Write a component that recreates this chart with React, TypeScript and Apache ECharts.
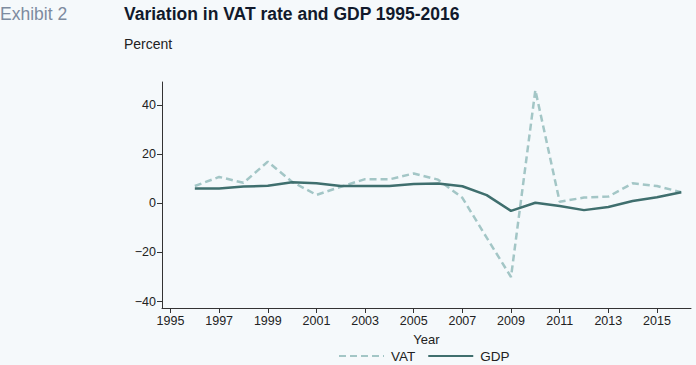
import React, { useEffect, useRef } from "react";
import * as echarts from "echarts";

const years = [1996, 1997, 1998, 1999, 2000, 2001, 2002, 2003, 2004, 2005, 2006, 2007, 2008, 2009, 2010, 2011, 2012, 2013, 2014, 2015, 2016];
const vat = [7, 10.7, 8.3, 16.9, 8.7, 3.4, 6.7, 9.8, 9.7, 12.1, 9.6, 2.2, -14, -30, 46, 0.6, 2.3, 2.7, 8.1, 7, 4.5];
const gdp = [6, 6, 6.8, 7.1, 8.5, 8.1, 7, 7, 7, 7.8, 8, 6.9, 3.3, -3.1, 0.2, -1.1, -2.8, -1.5, 0.9, 2.4, 4.5];
const xTicks = [1995, 1997, 1999, 2001, 2003, 2005, 2007, 2009, 2011, 2013, 2015];
const yTicks = [-40, -20, 0, 20, 40];

const FONT = "'Liberation Sans', Arial, Helvetica, sans-serif";
const VAT_COLOR = "#a3c6c6";
const GDP_COLOR = "#3f6f6e";

export default function App() {
  const ref = useRef<HTMLDivElement>(null);
  useEffect(() => {
    if (!ref.current) return;
    const chart = echarts.init(ref.current, undefined, { renderer: "svg" });
    const axisColor = "#333";
    chart.setOption({
      animation: false,
      backgroundColor: "#f5f9fb",
      textStyle: { fontFamily: FONT },
      title: [
        { text: "Exhibit 2", left: 0, top: 5, padding: 0, textStyle: { fontFamily: FONT, fontSize: 17.5, fontWeight: "normal", color: "#7d8ba0" } },
        { text: "Variation in VAT rate and GDP 1995-2016", left: 124, top: 5, padding: 0, textStyle: { fontFamily: FONT, fontSize: 17.5, fontWeight: "bold", color: "#111a2c" } },
        { text: "Percent", left: 124, top: 37, padding: 0, textStyle: { fontFamily: FONT, fontSize: 14, fontWeight: "normal", color: "#222" } },
      ],
      grid: { left: 162, right: 5, top: 82, bottom: 57, containLabel: false },
      legend: {
        left: 333,
        top: 344,
        itemWidth: 45,
        itemHeight: 10,
        itemGap: 12,
        itemStyle: { opacity: 0 },
        textStyle: { fontFamily: FONT, fontSize: 13.5, color: "#222", padding: [0, 0, 0, 2] },
        data: ["VAT", "GDP"],
      },
      xAxis: {
        type: "value",
        min: 1994.65,
        max: 2016.4,
        name: "Year",
        nameLocation: "middle",
        nameGap: 25,
        nameTextStyle: { fontFamily: FONT, fontSize: 13, color: "#222" },
        axisLine: { show: true, onZero: false, lineStyle: { color: axisColor, width: 1 } },
        axisTick: { show: true, length: 5, customValues: xTicks, lineStyle: { color: axisColor } },
        axisLabel: { customValues: xTicks, fontFamily: FONT, fontSize: 12.5, color: "#222", margin: 6, formatter: (v: number) => String(v) },
        splitLine: { show: false },
      },
      yAxis: {
        type: "value",
        min: -42.6,
        max: 49.3,
        axisLine: { show: true, lineStyle: { color: axisColor, width: 1 } },
        axisTick: { show: true, length: 5, customValues: yTicks, lineStyle: { color: axisColor } },
        axisLabel: {
          customValues: yTicks,
          fontFamily: FONT,
          fontSize: 12.5,
          color: "#222",
          margin: 6,
          formatter: (v: number) => (v < 0 ? "\u2212" + Math.abs(v) : String(v)),
        },
        splitLine: { show: false },
      },
      series: [
        {
          name: "VAT",
          type: "line",
          data: years.map((y, i) => [y, vat[i]]),
          symbol: "none",
          color: VAT_COLOR,
          lineStyle: { color: VAT_COLOR, width: 2.5, type: [7, 4] },
        },
        {
          name: "GDP",
          type: "line",
          data: years.map((y, i) => [y, gdp[i]]),
          symbol: "none",
          color: GDP_COLOR,
          lineStyle: { color: GDP_COLOR, width: 2.5 },
        },
      ],
    });
    return () => chart.dispose();
  }, []);
  return <div ref={ref} style={{ position: "fixed", left: 0, top: 0, width: 696, height: 365 }} />;
}
